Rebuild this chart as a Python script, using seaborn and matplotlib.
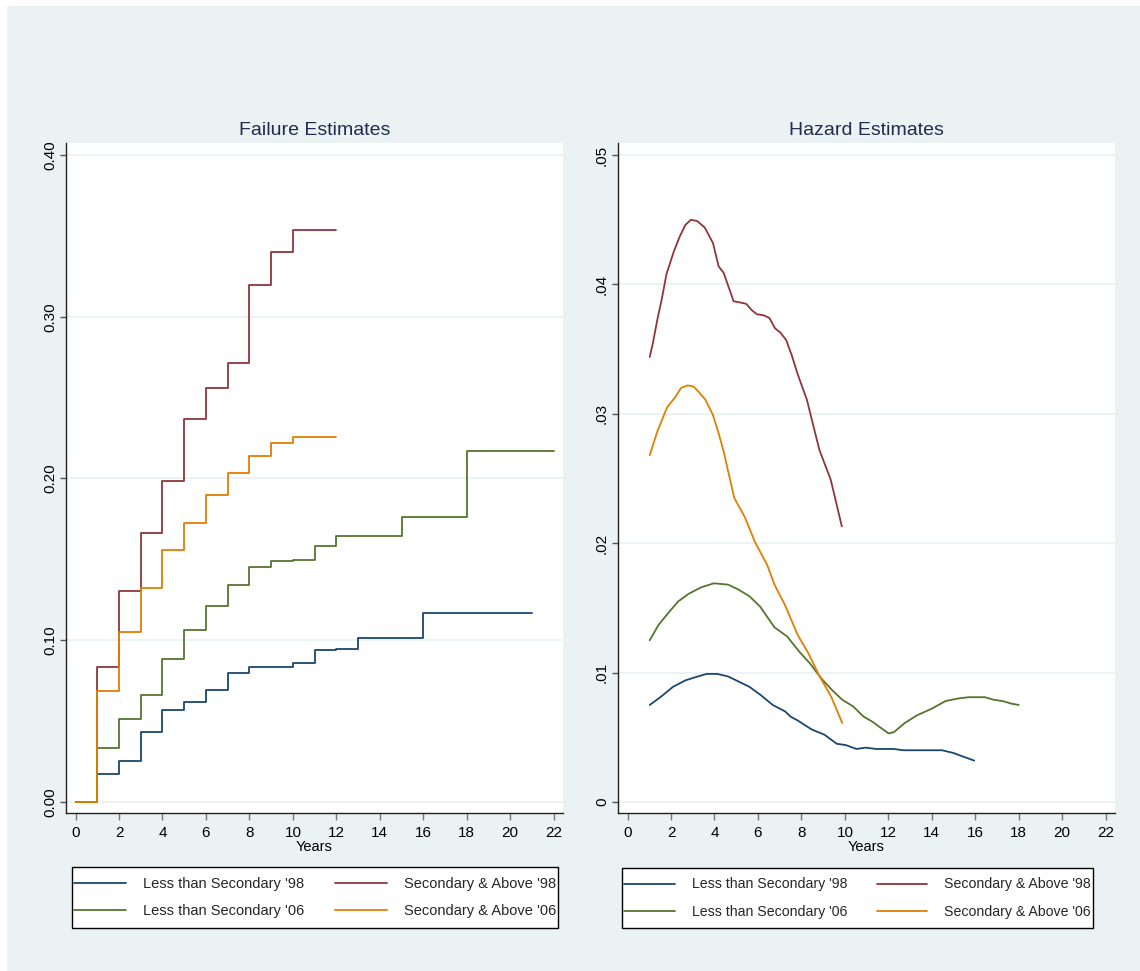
import numpy as np
import pandas as pd
import matplotlib
matplotlib.use("Agg")
import matplotlib.pyplot as plt
from matplotlib.lines import Line2D
from matplotlib.patches import Rectangle
import seaborn as sns

# ---------------- data ----------------
series_names = ["Less than Secondary '98", "Secondary & Above '98",
                "Less than Secondary '06", "Secondary & Above '06"]
series_colors = ["#1a476f", "#90353b", "#55752f", "#e37e00"]

# Failure estimates (Kaplan-Meier style step functions)
fail_less98_years = [0, 1, 2, 3, 4, 5, 6, 7, 8, 10, 11, 12, 13, 16, 21]
fail_less98 = [0, 0.0173, 0.0255, 0.0431, 0.0567, 0.0620, 0.0692, 0.0799, 0.0835,
               0.0861, 0.0938, 0.0946, 0.1012, 0.1168, 0.1168]
fail_sec98_years = [0, 1, 2, 3, 4, 5, 6, 7, 8, 9, 10, 12]
fail_sec98 = [0, 0.0837, 0.1306, 0.1660, 0.1985, 0.2366, 0.2557, 0.2716, 0.3194,
              0.3400, 0.3536, 0.3536]
fail_less06_years = [0, 1, 2, 3, 4, 5, 6, 7, 8, 9, 10, 11, 12, 15, 18, 22]
fail_less06 = [0, 0.0336, 0.0511, 0.0660, 0.0886, 0.1065, 0.1214, 0.1344, 0.1451,
               0.1492, 0.1496, 0.1585, 0.1645, 0.1764, 0.2167, 0.2167]
fail_sec06_years = [0, 1, 2, 3, 4, 5, 6, 7, 8, 9, 10, 12]
fail_sec06 = [0, 0.0686, 0.1049, 0.1321, 0.1556, 0.1725, 0.1898, 0.2032, 0.2139,
              0.2218, 0.2255, 0.2255]

# Hazard estimates (smoothed)
haz_less98_years = [1.02, 1.51, 2.09, 2.66, 3.23, 3.64, 4.13, 4.63, 5.12, 5.61, 6.10, 6.68,
                    7.25, 7.50, 7.83, 8.48, 9.06, 9.63, 10.04, 10.53, 10.95, 11.44, 12.26,
                    12.67, 13.98, 14.47, 14.97, 15.46, 15.95]
haz_less98 = [0.0075, 0.0081, 0.0089, 0.0094, 0.0097, 0.0099, 0.0099, 0.0097, 0.0093,
              0.0089, 0.0083, 0.0075, 0.0070, 0.0066, 0.0063, 0.0056, 0.0052, 0.0045,
              0.0044, 0.0041, 0.0042, 0.0041, 0.0041, 0.0040, 0.0040, 0.0040, 0.0038,
              0.0035, 0.0032]
haz_sec98_years = [1.02, 1.17, 1.36, 1.59, 1.79, 2.12, 2.40, 2.66, 2.92, 3.20, 3.55, 3.93,
                   4.19, 4.42, 4.65, 4.88, 5.19, 5.46, 5.72, 5.95, 6.29, 6.53, 6.79, 7.02,
                   7.30, 7.56, 7.82, 8.25, 8.56, 8.83, 9.35, 9.86]
haz_sec98 = [0.0344, 0.0355, 0.0372, 0.0390, 0.0408, 0.0425, 0.0437, 0.0446, 0.0450,
             0.0449, 0.0444, 0.0432, 0.0414, 0.0409, 0.0398, 0.0387, 0.0386, 0.0385,
             0.0380, 0.0377, 0.0376, 0.0374, 0.0366, 0.0363, 0.0357, 0.0345, 0.0331,
             0.0311, 0.0290, 0.0272, 0.0249, 0.0213]
haz_less06_years = [1.02, 1.43, 1.92, 2.33, 2.82, 3.40, 3.97, 4.63, 5.12, 5.61, 6.10, 6.43,
                    6.76, 7.34, 7.91, 8.40, 8.89, 9.38, 9.88, 10.37, 10.86, 11.27, 11.68,
                    12.01, 12.26, 12.75, 13.32, 13.98, 14.63, 15.21, 15.70, 16.44, 16.85,
                    17.26, 17.67, 18.0]
haz_less06 = [0.0125, 0.0137, 0.0147, 0.0155, 0.0161, 0.0166, 0.0169, 0.0168, 0.0164,
              0.0159, 0.0151, 0.0143, 0.0135, 0.0128, 0.0116, 0.0107, 0.0096, 0.0087,
              0.0079, 0.0074, 0.0066, 0.0062, 0.0057, 0.0053, 0.0054, 0.0061, 0.0067,
              0.0072, 0.0078, 0.0080, 0.0081, 0.0081, 0.0079, 0.0078, 0.0076, 0.0075]
haz_sec06_years = [1.02, 1.36, 1.82, 2.20, 2.46, 2.77, 3.04, 3.27, 3.58, 3.93, 4.19, 4.42,
                   4.65, 4.91, 5.40, 5.86, 6.43, 6.76, 7.25, 7.83, 8.32, 8.81, 9.38, 9.88]
haz_sec06 = [0.0268, 0.0286, 0.0305, 0.0313, 0.0320, 0.0322, 0.0321, 0.0317, 0.0311,
             0.0299, 0.0285, 0.0271, 0.0254, 0.0235, 0.0220, 0.0201, 0.0183, 0.0168,
             0.0152, 0.0129, 0.0115, 0.0098, 0.0081, 0.0061]

x_ticks = [0, 2, 4, 6, 8, 10, 12, 14, 16, 18, 20, 22]
fail_yticks = [0.0, 0.1, 0.2, 0.3, 0.4]
fail_yticklabels = ["0.00", "0.10", "0.20", "0.30", "0.40"]
haz_yticks = [0.0, 0.01, 0.02, 0.03, 0.04, 0.05]
haz_yticklabels = ["0", ".01", ".02", ".03", ".04", ".05"]

# ---------------- data frames ----------------
def make_df(pairs):
    frames = []
    for name, xs, ys in pairs:
        frames.append(pd.DataFrame({"Years": xs, "value": ys, "group": name}))
    return pd.concat(frames, ignore_index=True)

fail_df = make_df([
    (series_names[0], fail_less98_years, fail_less98),
    (series_names[1], fail_sec98_years, fail_sec98),
    (series_names[2], fail_less06_years, fail_less06),
    (series_names[3], fail_sec06_years, fail_sec06),
])
haz_df = make_df([
    (series_names[0], haz_less98_years, haz_less98),
    (series_names[1], haz_sec98_years, haz_sec98),
    (series_names[2], haz_less06_years, haz_less06),
    (series_names[3], haz_sec06_years, haz_sec06),
])
palette = dict(zip(series_names, series_colors))

# ---------------- styling ----------------
sns.set_theme(style="white")
plt.rcParams["font.family"] = ["Liberation Sans", "DejaVu Sans"]

BG = "#eaf2f3"
W, H = 1140, 971
fig = plt.figure(figsize=(W / 100, H / 100), dpi=100, facecolor="white")
fig.patches.append(Rectangle((7 / W, 0), 1 - 7 / W, 1 - 6 / H, transform=fig.transFigure,
                             facecolor=BG, edgecolor="none", zorder=-10))

def axes_rect(x0, x1, y0=143, y1=813):
    return [x0 / W, 1 - y1 / H, (x1 - x0) / W, (y1 - y0) / H]

ax1 = fig.add_axes(axes_rect(66, 563))
ax2 = fig.add_axes(axes_rect(618, 1115))

sns.lineplot(data=fail_df, x="Years", y="value", hue="group", palette=palette,
             hue_order=series_names, estimator=None, sort=False, drawstyle="steps-post",
             linewidth=1.3, legend=False, ax=ax1)
sns.lineplot(data=haz_df, x="Years", y="value", hue="group", palette=palette,
             hue_order=series_names, estimator=None, sort=False,
             linewidth=1.3, legend=False, ax=ax2)

def style_axes(ax, title, yticks, ylabels, ylim):
    ax.set_facecolor("white")
    ax.set_xlim(-0.44, 22.43)
    ax.set_ylim(*ylim)
    ax.set_xticks(x_ticks)
    ax.set_xticklabels([str(t) for t in x_ticks])
    ax.set_yticks(yticks)
    ax.set_yticklabels(ylabels, rotation=90, va="center")
    ax.grid(False)
    for yv in yticks:
        ax.axhline(yv, color=BG, lw=1.3, zorder=0.5)
    for s in ["top", "right"]:
        ax.spines[s].set_visible(False)
    for s in ["left", "bottom"]:
        ax.spines[s].set_visible(True)
        ax.spines[s].set_color("#222222")
        ax.spines[s].set_linewidth(1.0)
    ax.tick_params(axis="x", which="major", direction="out", length=5, width=1.0,
                   color="#777777", labelsize=11, pad=4, labelcolor="black", bottom=True)
    ax.tick_params(axis="y", which="major", direction="out", length=4.5, width=1.0,
                   color="#555555", labelsize=11, pad=2, labelcolor="black", left=True)
    ax.set_xlabel("Years", fontsize=10.5, labelpad=0, color="black")
    ax.set_ylabel("")
    ax.set_title(title, fontsize=14, color="#1f2d50", pad=6)

style_axes(ax1, "Failure Estimates", fail_yticks, fail_yticklabels, (-0.0068, 0.4074))
style_axes(ax2, "Hazard Estimates", haz_yticks, haz_yticklabels, (-0.00085, 0.05093))

# ---------------- legends ----------------
handles = [Line2D([], [], color=palette[n], lw=1.3) for n in series_names]
order = [0, 2, 1, 3]
legend_boxes = [((72, 867, 558, 928), 10.5), ((622, 868, 1093, 928), 10.2)]
for (bx0, by0, bx1, by1), fs in legend_boxes:
    fig.patches.append(Rectangle((bx0 / W, 1 - by1 / H), (bx1 - bx0) / W, (by1 - by0) / H,
                                 transform=fig.transFigure, facecolor="white",
                                 edgecolor="black", lw=1.0, zorder=1))
    leg = fig.legend([handles[i] for i in order], [series_names[i] for i in order],
                     loc="center", bbox_to_anchor=((bx0 + bx1) / 2 / W, 1 - (by0 + by1) / 2 / H),
                     ncol=2, frameon=False, fontsize=fs, handlelength=3.57,
                     handletextpad=1.17, columnspacing=2.1, labelspacing=0.92,
                     borderpad=0.0, borderaxespad=0)
    leg.set_zorder(2)

fig.savefig("out.png", dpi=100, facecolor=fig.get_facecolor())
